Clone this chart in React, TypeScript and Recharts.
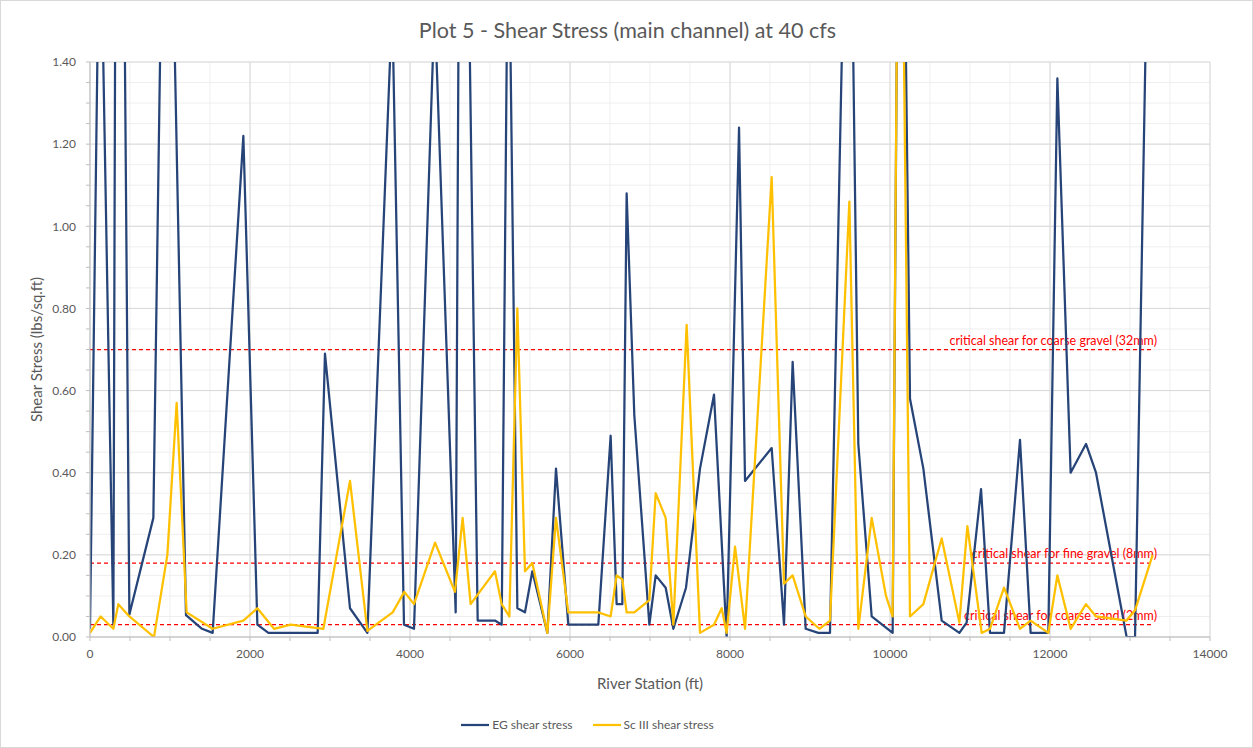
import React from 'react';
import { LineChart, Line, XAxis, YAxis, CartesianGrid, ReferenceLine, Legend } from 'recharts';

const chartTitle = 'Plot 5 - Shear Stress (main channel) at 40 cfs';
const xAxisTitle = 'River Station (ft)';
const yAxisTitle = 'Shear Stress (lbs/sq.ft)';
const seriesNames = ['EG shear stress', 'Sc III shear stress'];
const seriesColors = ['#264478', '#FFC000'];

const egStation = [
  0, 123, 292, 347, 492, 792, 954, 1200, 1400, 1533, 1917, 2092, 2230, 2846, 2937, 3250, 3467, 3778,
  3925, 4050, 4308, 4571, 4642, 4846, 5062, 5146, 5229, 5342, 5437, 5529, 5717, 5825, 5979, 6354,
  6508, 6583, 6654, 6708, 6804, 6992, 7071, 7196, 7292, 7450, 7625, 7800, 7958, 8113, 8188, 8521,
  8675, 8783, 8946, 9104, 9250, 9485, 9604, 9771, 10033, 10127, 10250, 10417, 10646, 10867, 10958,
  11138, 11250, 11425, 11625, 11758, 11979, 12092, 12258, 12450, 12575, 12958, 13063, 13283,
];
const egShear = [
  0.02, 1.87, 0.03, 3.6, 0.055, 0.29, 2.45, 0.053, 0.02, 0.01, 1.22, 0.03, 0.01, 0.01, 0.69, 0.07, 0.01, 1.54,
  0.03, 0.02, 1.54, 0.06, 2.9, 0.04, 0.04, 0.03, 1.85, 0.07, 0.06, 0.16, 0.01, 0.41, 0.03, 0.03,
  0.49, 0.08, 0.08, 1.08, 0.54, 0.03, 0.15, 0.12, 0.02, 0.12, 0.41, 0.59, 0.0, 1.24, 0.38, 0.46,
  0.03, 0.67, 0.02, 0.01, 0.01, 2.24, 0.47, 0.05, 0.01, 2.6, 0.58, 0.41, 0.04, 0.01, 0.035,
  0.36, 0.01, 0.01, 0.48, 0.01, 0.01, 1.36, 0.4, 0.47, 0.4, 0.0, 0.0, 2.4,
];

const sc3Station = [
  0, 133, 292, 354, 492, 800, 967, 1083, 1208, 1533, 1917, 2092, 2300, 2508, 2917, 3250, 3467, 3783,
  3929, 4050, 4313, 4562, 4658, 4758, 5062, 5146, 5242, 5342, 5437, 5529, 5717, 5825, 5979, 6354,
  6508, 6583, 6654, 6708, 6804, 6992, 7071, 7196, 7292, 7458, 7625, 7800, 7896, 7958, 8063, 8188,
  8521, 8675, 8783, 8946, 9117, 9250, 9492, 9604, 9771, 9950, 10033, 10120, 10250, 10417, 10646,
  10867, 10967, 11146, 11250, 11425, 11625, 11758, 11979, 12092, 12258, 12450, 12575, 12958, 13063, 13283,
];
const sc3Shear = [
  0.01, 0.05, 0.02, 0.08, 0.05, 0.0, 0.2, 0.57, 0.06, 0.02, 0.04, 0.07, 0.02, 0.03, 0.02, 0.38, 0.015, 0.06,
  0.11, 0.08, 0.23, 0.11, 0.29, 0.08, 0.16, 0.08, 0.05, 0.8, 0.16, 0.18, 0.01, 0.29, 0.06, 0.06,
  0.05, 0.15, 0.14, 0.06, 0.06, 0.09, 0.35, 0.29, 0.03, 0.76, 0.01, 0.03, 0.07, 0.01, 0.22, 0.02,
  1.12, 0.13, 0.15, 0.05, 0.02, 0.04, 1.06, 0.02, 0.29, 0.1, 0.05, 2.4, 0.05, 0.08, 0.24,
  0.035, 0.27, 0.01, 0.02, 0.12, 0.02, 0.04, 0.01, 0.15, 0.02, 0.08, 0.05, 0.04, 0.065, 0.2,
];

const criticalValues = [0.7, 0.18, 0.03];
const criticalLabels = [
  'critical shear for coarse gravel (32mm)',
  'critical shear for fine gravel (8mm)',
  'critical shear for coarse sand (2mm)',
];
const criticalStart = 0;
const criticalEnd = 13300;

const xMajorTicks = [0, 2000, 4000, 6000, 8000, 10000, 12000, 14000];
const xMinorTicks = [
  0, 500, 1000, 1500, 2000, 2500, 3000, 3500, 4000, 4500, 5000, 5500, 6000, 6500, 7000, 7500,
  8000, 8500, 9000, 9500, 10000, 10500, 11000, 11500, 12000, 12500, 13000, 13500, 14000,
];
const yMajorTicks = [0, 0.2, 0.4, 0.6, 0.8, 1.0, 1.2, 1.4];
const yMinorTicks = [
  0, 0.05, 0.1, 0.15, 0.2, 0.25, 0.3, 0.35, 0.4, 0.45, 0.5, 0.55, 0.6, 0.65, 0.7,
  0.75, 0.8, 0.85, 0.9, 0.95, 1.0, 1.05, 1.1, 1.15, 1.2, 1.25, 1.3, 1.35, 1.4,
];

const egData = egStation.map((s, i) => ({ station: s, shear: egShear[i] }));
const sc3Data = sc3Station.map((s, i) => ({ station: s, shear: sc3Shear[i] }));

const FONT = 'Lato, "Open Sans", sans-serif';
const TXT = '#595959';

const scaleOf = (axis: any) => {
  const s = axis && axis.scale;
  if (!s) return null;
  if (typeof s === 'function') return (v: number) => s(v);
  if (typeof s.map === 'function') return (v: number) => s.map(v);
  return null;
};

const isMajor = (v: number, list: number[]) => list.some((m) => Math.abs(m - v) < 1e-9);

const renderLegend = () => (
  <div
    style={{
      display: 'flex',
      justifyContent: 'center',
      alignItems: 'center',
      fontFamily: FONT,
      fontSize: 12,
      color: TXT,
    }}
  >
    {seriesNames.map((n, i) => (
      <span key={n} style={{ display: 'flex', alignItems: 'center', marginRight: i === 0 ? 20 : 0 }}>
        <svg width={28} height={10}>
          <line x1={0} y1={5} x2={28} y2={5} stroke={seriesColors[i]} strokeWidth={2.25} />
        </svg>
        <span style={{ marginLeft: 3 }}>{n}</span>
      </span>
    ))}
  </div>
);

const makeCriticalLabel = (text: string) => (p: any) => {
  const vb = p && p.viewBox ? p.viewBox : { x: 0, y: 0, width: 0 };
  return (
    <text
      x={vb.x + vb.width + 3}
      y={vb.y - 5}
      textAnchor="end"
      fill="#FF0000"
      fontSize={12.5}
      fontFamily={FONT}
    >
      {text}
    </text>
  );
};

export default function App() {
  return (
    <div
      style={{
        position: 'absolute',
        left: 0,
        top: 0,
        width: 1253,
        height: 748,
        background: '#fff',
        fontFamily: FONT,
        boxSizing: 'border-box',
        border: '1px solid #D9D9D9',
      }}
    >
      <div
        style={{
          position: 'absolute',
          left: 0,
          top: 16,
          width: 1253,
          textAlign: 'center',
          fontSize: 21.5,
          color: TXT,
          lineHeight: '26px',
        }}
      >
        {chartTitle}
      </div>
      <div style={{ position: 'absolute', left: -1, top: -1 }}>
        <LineChart width={1253} height={748} margin={{ top: 62, right: 43, bottom: 71, left: 10 }}>
          <CartesianGrid
            stroke="#EFEFEF"
            strokeWidth={1}
            verticalCoordinatesGenerator={({ xAxis }: any) => {
              const f = scaleOf(xAxis);
              return f ? xMinorTicks.map((v) => f(v)) : [];
            }}
            horizontalCoordinatesGenerator={({ yAxis }: any) => {
              const f = scaleOf(yAxis);
              return f ? yMinorTicks.map((v) => f(v)) : [];
            }}
          />
          <CartesianGrid
            stroke="#D9D9D9"
            strokeWidth={1}
            verticalCoordinatesGenerator={({ xAxis }: any) => {
              const f = scaleOf(xAxis);
              return f ? xMajorTicks.map((v) => f(v)) : [];
            }}
            horizontalCoordinatesGenerator={({ yAxis }: any) => {
              const f = scaleOf(yAxis);
              return f ? yMajorTicks.map((v) => f(v)) : [];
            }}
          />
          <XAxis
            type="number"
            dataKey="station"
            domain={[0, 14000]}
            ticks={xMinorTicks}
            interval={0}
            height={40}
            tickFormatter={(v: number) => (isMajor(v, xMajorTicks) ? String(v) : '')}
            tick={{ fill: TXT, fontSize: 12 }}
            tickSize={4}
            tickMargin={8}
            axisLine={{ stroke: '#BFBFBF' }}
            tickLine={{ stroke: '#BFBFBF' }}
            allowDataOverflow
            label={{ value: xAxisTitle, position: 'bottom', offset: 1, style: { fill: TXT, fontSize: 15 } }}
          />
          <YAxis
            type="number"
            domain={[0, 1.4]}
            ticks={yMinorTicks}
            interval={0}
            width={80}
            tickFormatter={(v: number) => (isMajor(v, yMajorTicks) ? v.toFixed(2) : '')}
            tick={{ fill: TXT, fontSize: 12 }}
            tickSize={4}
            tickMargin={10}
            axisLine={{ stroke: '#BFBFBF' }}
            tickLine={{ stroke: '#BFBFBF' }}
            allowDataOverflow
            label={{
              value: yAxisTitle,
              angle: -90,
              position: 'insideLeft',
              offset: 27,
              style: { textAnchor: 'middle', fill: TXT, fontSize: 15 },
            }}
          />
          {criticalValues.map((v, i) => (
            <ReferenceLine
              key={criticalLabels[i]}
              segment={[
                { x: criticalStart, y: v },
                { x: criticalEnd, y: v },
              ]}
              stroke="#FF0000"
              strokeDasharray="4 3"
              strokeWidth={1.25}
              label={makeCriticalLabel(criticalLabels[i])}
            />
          ))}
          <Line
            data={egData}
            dataKey="shear"
            name={seriesNames[0]}
            type="linear"
            stroke={seriesColors[0]}
            strokeWidth={2.25}
            strokeLinejoin="round"
            dot={false}
            activeDot={false}
            isAnimationActive={false}
          />
          <Line
            data={sc3Data}
            dataKey="shear"
            name={seriesNames[1]}
            type="linear"
            stroke={seriesColors[1]}
            strokeWidth={2.25}
            strokeLinejoin="round"
            dot={false}
            activeDot={false}
            isAnimationActive={false}
          />
          <Legend
            layout="horizontal"
            verticalAlign="middle"
            align="center"
            wrapperStyle={{ top: 717, left: 0, width: 1175 }}
            content={renderLegend}
          />
        </LineChart>
      </div>
    </div>
  );
}
